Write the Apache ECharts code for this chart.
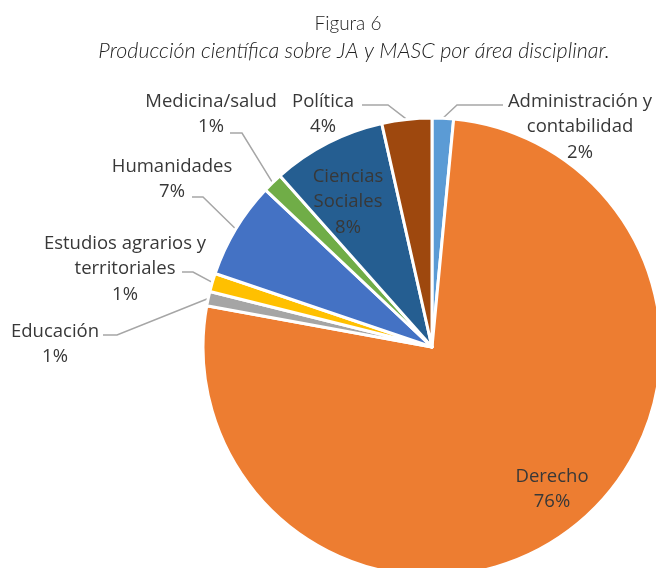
<!DOCTYPE html>
<html>
<head>
<meta charset="utf-8">
<script src="https://cdn.jsdelivr.net/npm/echarts@6/dist/echarts.min.js"></script>
<style>
  html, body { margin: 0; padding: 0; background: #fff; }
  #chart { width: 656px; height: 568px; }
</style>
</head>
<body>
<div id="chart"></div>
<script>
// áreas disciplinares, en el orden del gráfico (desde arriba, sentido horario)
const areas = [
  "Administración y\ncontabilidad",
  "Derecho",
  "Educación",
  "Estudios agrarios y\nterritoriales",
  "Humanidades",
  "Medicina/salud",
  "Ciencias\nSociales",
  "Política"
];
// porcentaje aproximado
const shares = [1.5, 76, 1, 1.3, 6.8, 1.4, 8, 3.5];
const colors = ["#5B9BD5", "#ED7D31", "#A5A5A5", "#FFC000", "#4472C4", "#70AD47", "#255E91", "#9E480E"];

// posición (centro) de cada etiqueta
const labelSpots = [
  [580, 127], [552, 489], [55, 344], [125, 269],
  [172, 179], [211, 114], [348, 202], [323, 114]
];
// codo y final de cada línea guía (null = sin línea)
const leaderEnds = [
  [[457, 105], [503, 105]],
  null,
  [[117, 335], [103, 335]],
  [[193, 272], [182, 272]],
  [[203, 197], [192, 197]],
  [[242, 133], [230, 133]],
  null,
  [[388, 105], [362, 105]]
];

let chart = echarts.init(document.getElementById("chart"));
chart.setOption({
  animation: false,
  color: colors,
  title: [
    {
      text: "Figura 6",
      left: 343,
      textAlign: "center",
      top: 9,
      textStyle: { fontFamily: "Lato", fontWeight: 300, fontSize: 19, color: "#222" }
    },
    {
      text: "Producción científica sobre JA y MASC por área disciplinar.",
      left: 349,
      textAlign: "center",
      top: 35,
      textStyle: { fontFamily: "Lato", fontStyle: "italic", fontWeight: 300, fontSize: 21.5, color: "#222" }
    }
  ],
  series: [{
    type: "pie",
    center: [432, 347],
    radius: 229,
    startAngle: 90,
    clockwise: true,
    data: areas.map((name, i) => ({ name: name, value: shares[i] })),
    itemStyle: { borderColor: "#fff", borderWidth: 3 },
    label: {
      show: true,
      position: "outside",
      overflow: "none",
      formatter: p => p.name + "\n" + Math.round(p.percent) + "%",
      fontFamily: "Open Sans",
      fontSize: 18.5,
      lineHeight: 25.5,
      color: "#383838",
      align: "center"
    },
    labelLine: {
      show: true,
      length: 12,
      length2: 12,
      lineStyle: { color: "#A6A6A6", width: 1.5 }
    },
    labelLayout: function (params) {
      const s = labelSpots[params.dataIndex];
      const out = {
        x: s[0],
        y: s[1],
        align: "center",
        verticalAlign: "middle"
      };
      const le = leaderEnds[params.dataIndex];
      if (le && params.labelLinePoints) {
        out.labelLinePoints = [params.labelLinePoints[0], le[0], le[1]];
      }
      return out;
    }
  }]
});
</script>
</body>
</html>
